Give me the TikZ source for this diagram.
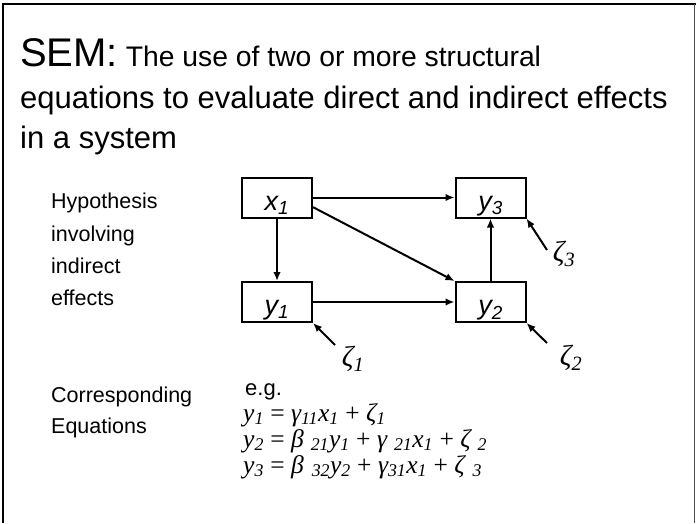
\documentclass[tikz,border=0pt]{standalone}
\usepackage{fontspec}
\setmainfont{Liberation Sans}
\newfontfamily\timesfont{Liberation Serif}
\usetikzlibrary{arrows.meta,calc}

\begin{document}
\begin{tikzpicture}[x=1pt,y=-1pt,
    var/.style={draw, line width=2pt, minimum width=70pt, minimum height=40pt, inner sep=0pt,
        text height=25pt, text depth=0pt, font=\fontsize{27}{27}\selectfont\itshape},
    path/.style={-{Latex[length=9pt,width=7.5pt]}, line width=2pt},
    side/.style={anchor=base west, inner sep=0pt, font=\fontsize{21.5}{21.5}\selectfont},
    err/.style={inner sep=0pt, font=\timesfont\fontsize{29}{29}\selectfont\itshape},
    eqline/.style={anchor=base west, inner sep=0pt, text depth=0pt, font=\timesfont\fontsize{25.5}{25.5}\selectfont\itshape}]
    \useasboundingbox (0,0) rectangle (696,523);

    % Frame
    \draw[line width=2.5pt] (3,523) -- (3,4) -- (696,4);
    \draw[black!70, line width=1pt] (694,4) -- (694,523);

    % Title
    \node[anchor=base west, inner sep=0pt] (head1) at (20,66)
        {\fontsize{40}{40}\selectfont SEM:{\fontsize{28.3}{28.3}\selectfont\ The use of two or more structural}};
    \node[anchor=base west, inner sep=0pt, font=\fontsize{31}{31}\selectfont] (head2) at (20,108)
        {equations to evaluate direct and indirect effects};
    \node[anchor=base west, inner sep=0pt, font=\fontsize{31}{31}\selectfont] (head3) at (20,148)
        {in a system};

    % Left side labels
    \node[side] (hyp1) at (51,208) {Hypothesis};
    \node[side] (hyp2) at (51,241) {involving};
    \node[side] (hyp3) at (51,273) {indirect};
    \node[side] (hyp4) at (51,305) {effects};
    \node[side] (cor1) at (51,402) {Corresponding};
    \node[side] (cor2) at (51,433) {Equations};

    % Variables
    \node[var] (x1) at (277,197.5) {x\textsubscript{1}};
    \node[var] (y3) at (490.5,197.5) {y\textsubscript{3}};
    \node[var] (y1) at (277,302) {y\textsubscript{1}};
    \node[var] (y2) at (490.5,302) {y\textsubscript{2}};

    % Errors
    \node[err] (z1) at (353,359) {ζ\textsubscript{1}};
    \node[err] (z2) at (571,358) {ζ\textsubscript{2}};
    \node[err] (z3) at (564,254) {ζ\textsubscript{3}};
    \coordinate (t1) at (335,345);
    \coordinate (t2) at (547,343);
    \coordinate (t3) at (547,250);

    % Paths
    \draw[path] (x1) -- (y3);
    \draw[path] (x1) -- (y1);
    \draw[path] (x1.-15) -- (y2.north west);
    \draw[path] (y1) -- (y2);
    \draw[path] (y2) -- (y3);
    \draw[path] (t1) -- (y1.south east);
    \draw[path] (t2) -- (y2.south east);
    \draw[path] (t3) -- (y3.south east);

    % Equations
    \node[anchor=base west, inner sep=0pt, font=\fontsize{22}{22}\selectfont] (eg) at (245,395) {e.g.};
    \node[eqline] (eq1) at (243,421)
        {y\textsubscript{1} \textup{=} γ\textsubscript{11}x\textsubscript{1} \textup{+} ζ\textsubscript{1}};
    \node[eqline] (eq2) at (243,447)
        {y\textsubscript{2} \textup{=} β\textsubscript{\hspace{7pt}21}y\textsubscript{1} \textup{+} γ\textsubscript{\hspace{7pt}21}x\textsubscript{1} \textup{+} ζ\textsubscript{\hspace{7pt}2}};
    \node[eqline] (eq3) at (243,473)
        {y\textsubscript{3} \textup{=} β\textsubscript{\hspace{8pt}32}y\textsubscript{2} \textup{+} γ\textsubscript{31}x\textsubscript{1} \textup{+} ζ\textsubscript{\hspace{8pt}3}};
\end{tikzpicture}
\end{document}
